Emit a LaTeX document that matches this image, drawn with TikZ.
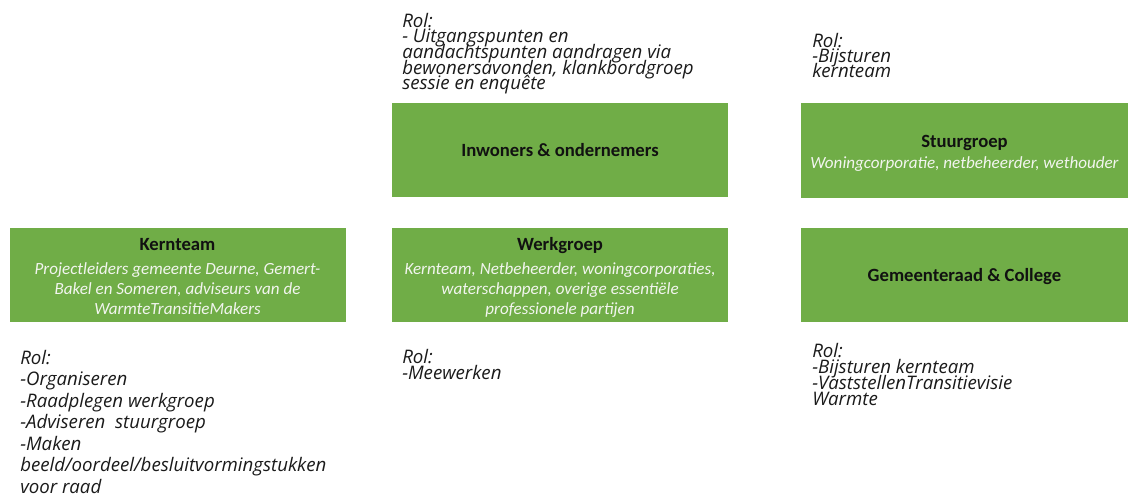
\documentclass[tikz,border=0pt]{standalone}
\usepackage{fontspec}
\setmainfont{Carlito}
\newfontfamily\rolfont{Open Sans}
\definecolor{boxgreen}{HTML}{70AD47}
\definecolor{subtext}{HTML}{F2F5EF}
\definecolor{titletext}{HTML}{111111}
\definecolor{roltext}{HTML}{1A1A1A}
\tikzset{
  greenbox/.style={fill=boxgreen, draw=none, inner sep=0pt, align=center,
    minimum width=252pt, minimum height=70.5pt, text depth=0pt,
    font=\fontsize{12.8}{15}\selectfont},
  widebox/.style={greenbox, minimum width=245.25pt},
  roltxt/.style={anchor=base west, inner sep=0pt, align=left, text=roltext},
}
\newcommand{\boxtitle}[1]{{\color{titletext}\bfseries\fontsize{14}{15}\selectfont #1}}
\newcommand{\boxsub}[1]{{\color{subtext}\itshape #1}}
\newcommand{\rolf}[1]{\rolfont\itshape\fontsize{14}{#1}\selectfont\lineskiplimit=-30pt\lineskip=0pt}
\begin{document}
\begin{tikzpicture}[x=0.75pt,y=-0.75pt]
\useasboundingbox (0,0) rectangle (1131,499);
% boxes
\node[greenbox, text height=9.75pt] (inw) at (560,150) {\boxtitle{Inwoners \& ondernemers}};
\node[widebox, text height=27.75pt] (stuur) at (964.5,150.5) {\boxtitle{Stuurgroep}\\[1pt]\boxsub{Woningcorporatie, netbeheerder, wethouder}};
\node[greenbox, text height=58.5pt] (kern) at (177.5,275) {\boxtitle{Kernteam}\\[3pt]
  \boxsub{Projectleiders gemeente Deurne, Gemert-}\\\boxsub{Bakel en Someren, adviseurs van de}\\\boxsub{WarmteTransitieMakers}};
\node[greenbox, text height=58.5pt] (werk) at (560,275) {\boxtitle{Werkgroep}\\[3pt]
  \boxsub{Kernteam, Netbeheerder, woningcorporaties,}\\\boxsub{waterschappen, overige essentiële}\\\boxsub{professionele partijen}};
\node[widebox, text height=9pt] (gem) at (964.5,275) {\boxtitle{Gemeenteraad \& College}};
% role texts (anchored at the baseline of their last line)
\node[roltxt, font=\rolf{11.8pt}] (rolinw) at (402,90) {Rol:\\- Uitgangspunten en\\aandachtspunten aandragen via\\bewonersavonden, klankbordgroep\\sessie en enquête};
\node[roltxt, font=\rolf{11.5pt}] (rolstuur) at (812,78) {Rol:\\-Bijsturen\\kernteam};
\node[roltxt, font=\rolf{16.1pt}] (rolkern) at (20,493) {Rol:\\-Organiseren\\-Raadplegen werkgroep\\-Adviseren\ \ stuurgroep\\-Maken\\beeld/oordeel/besluitvormingstukken\\voor raad};
\node[roltxt, font=\rolf{12pt}] (rolwerk) at (402,379) {Rol:\\-Meewerken};
\node[roltxt, font=\rolf{12pt}] (rolgem) at (812,405) {Rol:\\-Bijsturen kernteam\\-VaststellenTransitievisie\\Warmte};
\end{tikzpicture}
\end{document}
